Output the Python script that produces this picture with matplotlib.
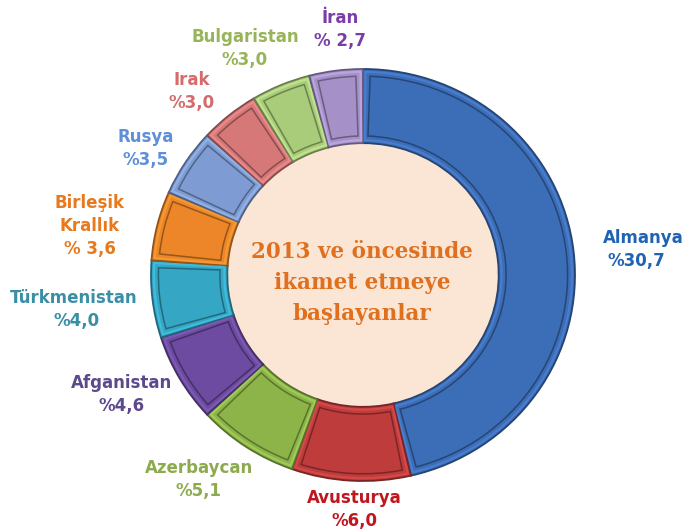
import matplotlib
matplotlib.use("Agg")
import matplotlib.pyplot as plt
from matplotlib.patches import Wedge, Circle
from matplotlib.colors import to_rgb

# ---------------- data ----------------
countries = ["Almanya", "Avusturya", "Azerbaycan", "Afganistan", "Türkmenistan",
             "Birleşik\nKrallık", "Rusya", "Irak", "Bulgaristan", "İran"]
shares = [30.7, 6.0, 5.1, 4.6, 4.0, 3.6, 3.5, 3.0, 3.0, 2.7]
pct_sep = ["", "", "", "", "", " ", "", "", "", " "]
center_title = ["2013 ve öncesinde", "ikamet etmeye", "başlayanlar"]

# ---------------- styles ----------------
seg_colors = ["#3C6DB7", "#BE3C3C", "#8CB448", "#6C4BA0", "#35A6C4",
              "#EC8628", "#7E9CD3", "#D77878", "#A9CC7A", "#A591C8"]
label_colors = ["#2163B3", "#C0171E", "#8DAA50", "#5D4A8C", "#3A8EA6",
                "#E77A1E", "#5E8FD8", "#D56B6B", "#97B558", "#7A3DA8"]
# label anchor (pixel x, pixel y of first line) and x of percent line
label_pos = [(643, 238, 636), (354, 498, 354), (199, 468, 198), (122, 383, 122),
             (74, 298, 77), (90, 203, 90), (146, 137, 146), (192, 80, 192),
             (245, 37, 245), (340, 18, 340)]
LINE_STEP = 23

W, H = 684, 532
cx, cy = 363, 275
Rx, Ry = 212, 206


def darken(c, f):
    r, g, b = to_rgb(c)
    return (r * f, g * f, b * f)


fig = plt.figure(figsize=(W / 100, H / 100), dpi=100)
ax = fig.add_axes([0, 0, 1, 1])

WIDTH = 0.36
wedges, _ = ax.pie(shares, colors=seg_colors, startangle=90, counterclock=False,
                   radius=1.0, wedgeprops=dict(width=WIDTH, linewidth=1.3))
for w, c in zip(wedges, seg_colors):
    w.set_edgecolor(darken(c, 0.62))
    w.set_zorder(2)
    # light band just inside the outer edge
    hl = Wedge((0, 0), w.r - 0.014, w.theta1 + 0.7, w.theta2 - 0.7,
               width=w.width - 0.028, fill=False,
               edgecolor=tuple(min(1, v * 1.2 + 0.06) for v in to_rgb(c)),
               linewidth=1.6, alpha=0.45, zorder=3)
    ax.add_patch(hl)
    # bevel inset outline
    d = 2.0
    inset = Wedge((0, 0), w.r - 0.035, w.theta1 + d, w.theta2 - d,
                  width=w.width - 0.07, fill=False,
                  edgecolor=darken(c, 0.55), linewidth=1.1, alpha=0.8, zorder=3)
    ax.add_patch(inset)

ax.add_patch(Circle((0, 0), 1 - WIDTH, facecolor="#FBE6D6", edgecolor="none", zorder=1))

ax.set_aspect("auto")
ax.set_xlim(-cx / Rx, (W - cx) / Rx)
ax.set_ylim(-(H - cy) / Ry, cy / Ry)
ax.axis("off")

# ---------------- labels ----------------
for name, v, sep, col, (x, y, xp) in zip(countries, shares, pct_sep, label_colors, label_pos):
    lines = name.split("\n")
    for i, ln in enumerate(lines):
        fig.text(x / W, 1 - (y + i * LINE_STEP) / H, ln, ha="center", va="center",
                 fontsize=12, fontweight="bold", color=col, family="DejaVu Sans")
    pct = "%" + sep + f"{v:.1f}".replace(".", ",")
    fig.text(xp / W, 1 - (y + len(lines) * LINE_STEP) / H, pct, ha="center", va="center",
             fontsize=12, fontweight="bold", color=col, family="DejaVu Sans")

for i, ln in enumerate(center_title):
    fig.text(362 / W, 1 - (252 + i * 31) / H, ln, ha="center", va="center",
             fontsize=15.5, fontweight="bold", color="#E0701E", family="DejaVu Serif")

fig.savefig("out.png", dpi=100)
